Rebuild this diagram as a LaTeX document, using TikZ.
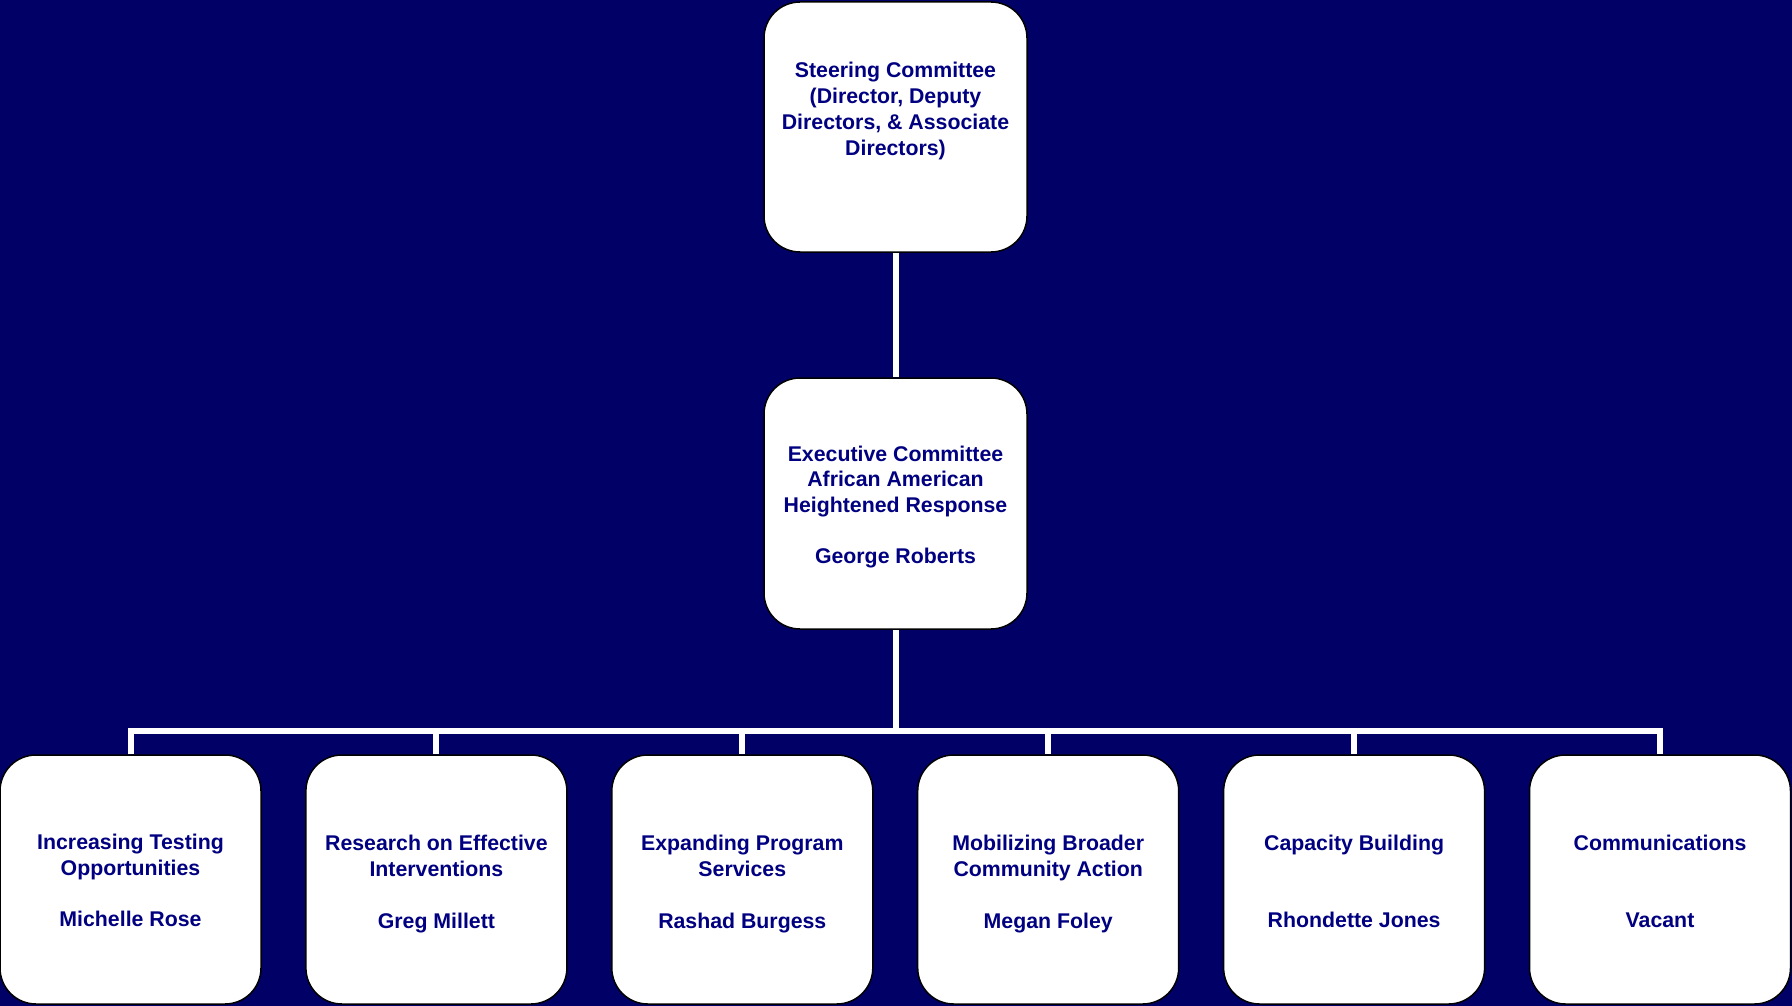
\documentclass[tikz,border=0pt]{standalone}
\usepackage{fontspec}
\setmainfont{Liberation Sans}
\definecolor{bgnavy}{RGB}{0,0,102}
\definecolor{txtnavy}{RGB}{0,0,128}
\tikzset{
  orgbox/.style={draw=black, line width=1.5pt, fill=white, rounded corners=36pt,
    minimum width=262pt, minimum height=250pt, inner sep=0pt},
  lowbox/.style={orgbox, minimum width=261pt, minimum height=249pt},
  orgtext/.style={align=center, text=txtnavy, inner sep=0pt, font=\fontsize{21.3}{25.7}\selectfont\bfseries},
  wire/.style={draw=white, line width=6pt, line join=miter}
}
\begin{document}
\begin{tikzpicture}[x=1pt,y=-1pt]
\fill[bgnavy] (0,0) rectangle (1792,1006);
\useasboundingbox (0,0) rectangle (1792,1006);
% boxes
\node[orgbox, minimum width=263pt] (steer) at (895.5,127) {};
\node[orgbox, minimum width=263pt, minimum height=251pt] (exec) at (895.5,503.5) {};
\node[lowbox] (b1) at (130.5,879.5) {};
\node[lowbox] (b2) at (436.4,879.5) {};
\node[lowbox] (b3) at (742.3,879.5) {};
\node[lowbox] (b4) at (1048.2,879.5) {};
\node[lowbox] (b5) at (1354.1,879.5) {};
\node[lowbox] (b6) at (1660,879.5) {};
% texts
\node[orgtext] (steertxt) at (895.5,111) {Steering Committee\\(Director, Deputy\\Directors, \& Associate\\Directors)};
\node[orgtext] (exectxt) at (895.5,507) {Executive Committee\\African American\\Heightened Response\\[25.7pt]George Roberts};
\node[orgtext] (t1) at (130.5,880.5) {Increasing Testing\\Opportunities\\[25.7pt]Michelle Rose};
\node[orgtext] (t2) at (436.4,884) {Research on Effective\\Interventions\\[25.7pt]Greg Millett};
\node[orgtext] (t3) at (742.3,884) {Expanding Program\\Services\\[25.7pt]Rashad Burgess};
\node[orgtext] (t4) at (1048.2,884) {Mobilizing Broader\\Community Action\\[25.7pt]Megan Foley};
\node[orgtext] (t5) at (1354.1,881.5) {Capacity Building\\[51.4pt]Rhondette Jones};
\node[orgtext] (t6) at (1660,881.5) {Communications\\[51.4pt]Vacant};
\coordinate (bar) at (895.5,730.5);
% connectors
\draw[wire] (steer.south) -- (exec.north);
\draw[wire] (exec.south) -- (bar);
\draw[wire] (b1.north) |- (b6.north |- bar) -- (b6.north);
\foreach \b in {b2,b3,b4,b5}{
  \draw[wire] (\b.north |- bar) -- (\b.north);
}
\end{tikzpicture}
\end{document}
